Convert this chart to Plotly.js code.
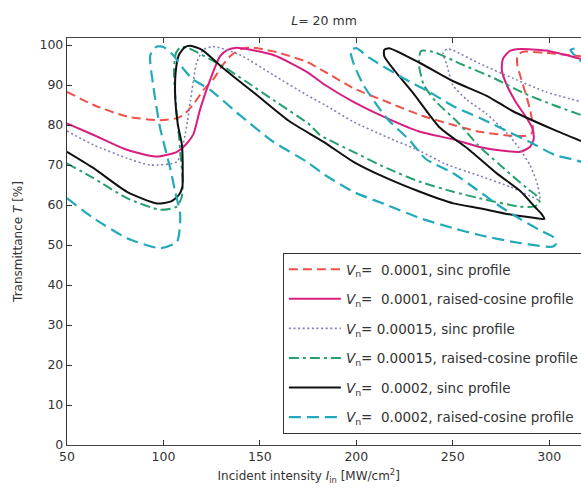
<!DOCTYPE html>
<html>
<head>
<meta charset="utf-8">
<script src="https://cdn.plot.ly/plotly-3.0.1.min.js"></script>
<style>
html,body{margin:0;padding:0;overflow:hidden;background:#fff;}
#chart{width:581px;height:494px;}
</style>
</head>
<body>
<div id="chart"></div>
<script>
// ---- data ----
var legendNames = [
  "<i>V</i><sub>n</sub>=\u00a0\u00a00.0001, sinc profile",
  "<i>V</i><sub>n</sub>=\u00a0\u00a00.0001, raised-cosine profile",
  "<i>V</i><sub>n</sub>=\u00a00.00015, sinc profile",
  "<i>V</i><sub>n</sub>=\u00a00.00015, raised-cosine profile",
  "<i>V</i><sub>n</sub>=\u00a0\u00a00.0002, sinc profile",
  "<i>V</i><sub>n</sub>=\u00a0\u00a00.0002, raised-cosine profile"
];

var xTickVals = [50, 100, 150, 200, 250, 300];
var yTickVals = [0, 10, 20, 30, 40, 50, 60, 70, 80, 90, 100];

// Vn = 0.0001, sinc profile
var redX = [50, 63.8, 81.1, 98.3, 106, 110.4, 115.6, 120.8, 126, 130, 134.6, 139.8, 145, 157, 174.3, 183.8, 198.5, 215.8, 233, 250.3, 263.8, 281.1, 288, 291, 291.5, 290, 288, 285.5, 283.5, 283.5, 286.3, 298.3, 316.5];
var redY = [88.3, 85, 82.1, 81.2, 81.6, 82.5, 85.2, 88.8, 91.5, 94.5, 97.2, 98.9, 99.4, 98.4, 95.8, 93.3, 89.2, 85.8, 82.5, 80, 78.3, 77.3, 77.3, 78, 80, 84, 87.5, 91.5, 95, 97.3, 98.3, 98, 97.2];

// Vn = 0.0001, raised-cosine profile
var magX = [50, 63.8, 81.1, 96.6, 107, 112, 115.6, 119, 124.3, 129.4, 133, 138, 157, 174.3, 183.8, 198.5, 215.8, 233, 250.3, 263.8, 275, 285, 290, 292, 291.5, 288, 283, 278.5, 275.5, 276, 279.5, 285, 298.3, 316.5];
var magY = [80.4, 77.5, 73.8, 72.1, 73.3, 75.3, 77.8, 83.9, 91.4, 97.2, 98.7, 99.3, 97.5, 93.3, 90, 85.8, 81.7, 78.3, 76.4, 74.5, 73.6, 73.3, 74.5, 76.5, 79, 82, 85.5, 89.5, 93.5, 96.5, 98.5, 99, 98.6, 96.5];

// Vn = 0.00015, sinc profile
var dotX = [50, 63.8, 81.1, 93.2, 107, 110.4, 112.5, 114, 115.5, 117.2, 120.8, 126, 139.8, 157, 174.3, 183.8, 198.5, 215.8, 233, 246, 263.8, 280, 290, 295, 294, 290, 284, 278, 267, 257.3, 250, 247, 245, 247, 250, 263.8, 281.1, 298.3, 316.5];
var dotY = [78.5, 75, 71.7, 70, 70.8, 75.6, 81, 86, 91, 95.6, 98.9, 99.6, 97.5, 92.5, 87.5, 85, 80.8, 77, 73.5, 70.3, 67.3, 64.5, 62.3, 61.3, 65, 70, 74.5, 78, 83, 86.3, 90, 95, 98, 99, 98.7, 95.4, 91.7, 88.3, 85.8];

// Vn = 0.00015, raised-cosine profile
var grnX = [50, 63.8, 81.1, 98.3, 107, 109.5, 110, 109, 107.5, 106, 105.5, 106.5, 109, 113, 131.1, 142.4, 159.6, 176, 181.2, 198.5, 215.8, 233, 250.3, 263.8, 284.5, 292, 295.2, 293, 288.4, 274.5, 263, 253, 241, 235, 232.5, 233.5, 239.8, 255.4, 271, 287.6, 302.1, 316.5];
var grnY = [70.4, 66.7, 61.7, 58.8, 59.6, 62, 66, 72, 80, 88, 94, 98, 99.5, 99.2, 94.6, 91, 85.4, 80, 77.5, 73.3, 69.2, 65.8, 63.3, 61.7, 59.6, 59.6, 60.5, 62.5, 64.2, 70, 75, 80.5, 86, 90, 95, 98.5, 98.3, 95, 91.8, 87.8, 85, 82.5];

// Vn = 0.0002, sinc profile
var blkX = [50, 63.8, 81.1, 96.6, 104, 108, 109.8, 110, 109.6, 107.5, 106.2, 106.3, 108, 111, 114, 120, 131, 148.4, 165.7, 183, 198.5, 215.8, 233, 250.3, 263.8, 281.1, 292, 297.5, 296, 293, 285, 272.8, 258, 243.4, 229.6, 220, 214.5, 214.5, 217, 233, 250, 267.6, 281, 302, 316.5];
var blkY = [73.3, 69.2, 63.3, 60.4, 60.9, 62.5, 64.5, 67.5, 75, 80, 86, 93, 97.5, 99.4, 99.8, 98.8, 94.2, 87.5, 80.8, 75.8, 70.8, 66.7, 63.3, 60.4, 59.2, 57.5, 56.8, 56.5, 57.8, 59.3, 63.5, 67.9, 74, 79.3, 87.9, 93.5, 97.2, 98.8, 99.2, 95.5, 91, 87.3, 83.5, 78.9, 76];

// Vn = 0.0002, raised-cosine profile
var cyaX = [50, 63.8, 81.1, 98.3, 107, 108.7, 106, 103.5, 98.3, 94.9, 93.2, 96.6, 100, 105, 110.4, 115, 124.2, 139.8, 157, 174.3, 183.8, 198.5, 215.8, 233, 250.3, 263.8, 281.1, 298.3, 302, 303.5, 302, 296, 285, 275, 262, 250, 236, 228, 215.8, 203.7, 198.5, 197, 200, 207.1, 224.4, 237, 250.3, 263.8, 289.7, 303, 316.5, 335, 335, 316.5, 311, 314];
var cyaY = [61.7, 56.7, 51.7, 49.2, 50.8, 57.5, 63.5, 69.2, 79.2, 89.2, 97.5, 99.6, 99.5, 97.5, 94, 91.5, 88.8, 82.4, 75.8, 70.8, 67.5, 63.3, 60, 56.7, 54.2, 52.5, 50.8, 49.6, 49.6, 50.3, 52, 53.5, 56.5, 59.5, 64, 68, 71.5, 76, 81.7, 90, 95.5, 98.7, 99.2, 96.7, 91.7, 88.5, 84.7, 81.8, 75.8, 72.5, 70.8, 66, 92, 96, 98.8, 99.2];

var seriesX = [redX, magX, dotX, grnX, blkX, cyaX];
var seriesY = [redY, magY, dotY, grnY, blkY, cyaY];

// ---- styles ----
var lineStyles = [
  {color: '#f0504a', width: 2, dash: '9px,5px'},
  {color: '#d81f80', width: 2, dash: 'solid'},
  {color: '#8080b8', width: 1.6, dash: '2px,2.6px'},
  {color: '#27a06e', width: 2, dash: '10px,4px,3px,4px'},
  {color: '#111111', width: 2, dash: 'solid'},
  {color: '#22aabb', width: 2.2, dash: '12px,6px'}
];

var traces = seriesX.map(function (xs, i) {
  return {
    type: 'scatter',
    mode: 'lines',
    x: xs,
    y: seriesY[i],
    name: legendNames[i],
    legendgroup: 'g' + i,
    line: {color: lineStyles[i].color, width: lineStyles[i].width, dash: lineStyles[i].dash, shape: 'spline', smoothing: 0.6},
    hoverinfo: 'x+y'
  };
});

var fontFam = 'DejaVu Sans, Verdana, sans-serif';

var layout = {
  width: 581,
  height: 494,
  margin: {l: 67, r: 0, t: 38, b: 49, autoexpand: false},
  paper_bgcolor: '#ffffff',
  plot_bgcolor: '#ffffff',
  font: {family: fontFam, size: 13, color: '#333333'},
  title: {
    text: '<i>L</i>= 20 mm',
    font: {family: fontFam, size: 12.5, color: '#333333'},
    xref: 'container', x: 0.5577, xanchor: 'center',
    yref: 'container', y: 0.9575, yanchor: 'middle'
  },
  xaxis: {
    range: [50, 316.5],
    tickvals: xTickVals,
    ticks: 'inside', ticklen: 5, tickcolor: '#333',
    showline: true, linecolor: '#444', linewidth: 1.2,
    mirror: 'ticks',
    showgrid: false, zeroline: false,
    tickfont: {family: fontFam, size: 12.5, color: '#333'},
    title: {
      text: 'Incident intensity <i>I</i><sub>in</sub> [MW/cm<sup>2</sup>]\u00a0\u00a0\u00a0\u00a0\u00a0\u00a0\u00a0\u00a0\u200b',
      font: {family: fontFam, size: 12, color: '#333'},
      standoff: 8
    }
  },
  yaxis: {
    range: [0, 101.75],
    tickvals: yTickVals,
    ticks: 'inside', ticklen: 5, tickcolor: '#333',
    showline: true, linecolor: '#333', linewidth: 1.2,
    mirror: false,
    showgrid: false, zeroline: false,
    tickfont: {family: fontFam, size: 12.5, color: '#333'},
    title: {
      text: 'Transmittance <i>T</i> [%]',
      font: {family: fontFam, size: 12, color: '#333'},
      standoff: 14
    }
  },
  showlegend: true,
  legend: {
    x: 0.42, y: 0.4717, xanchor: 'left', yanchor: 'top',
    bgcolor: '#ffffff', bordercolor: '#333', borderwidth: 1,
    font: {family: fontFam, size: 13.5, color: '#333'},
    traceorder: 'grouped', tracegroupgap: 9,
    itemwidth: 52
  }
};

Plotly.newPlot('chart', traces, layout, {staticPlot: true, displayModeBar: false});
</script>
</body>
</html>
